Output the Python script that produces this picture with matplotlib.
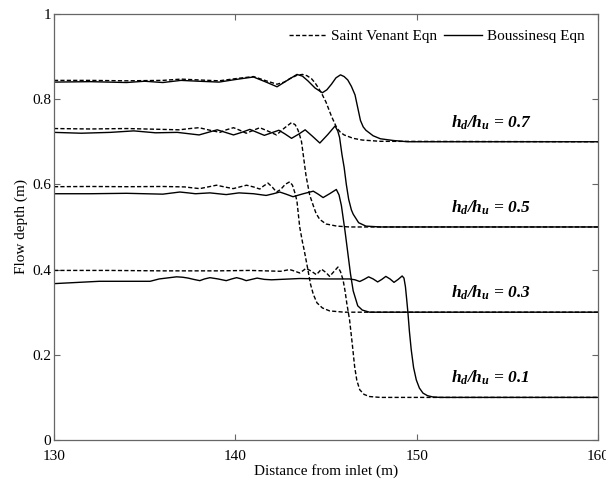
import matplotlib
matplotlib.use("Agg")
import matplotlib.pyplot as plt

# Saint Venant (dashed) and Boussinesq (solid) depth profiles
sv07_x = [130, 132, 134, 136, 137, 138, 139.1, 140, 141.0, 141.7, 142.3, 142.7, 143.0, 143.4, 143.7, 143.95, 144.2, 144.4, 144.6, 144.8, 145.0, 145.3, 145.6, 145.8, 146.0, 146.5, 147.0, 148.0, 160]
sv07_y = [0.844, 0.844, 0.843, 0.844, 0.847, 0.845, 0.843, 0.848, 0.853, 0.843, 0.835, 0.840, 0.848, 0.856, 0.858, 0.855, 0.848, 0.838, 0.825, 0.81, 0.793, 0.76, 0.732, 0.722, 0.716, 0.708, 0.704, 0.701, 0.70]
b07_x = [130, 132, 134, 135, 136, 137, 138, 139.1, 140, 141.0, 141.7, 142.3, 142.9, 143.4, 143.7, 144.0, 144.4, 144.8, 145.05, 145.3, 145.55, 145.8, 146.0, 146.2, 146.4, 146.6, 146.75, 146.9, 147.05, 147.2, 147.6, 148.0, 148.7, 149.5, 160]
b07_y = [0.840, 0.841, 0.839, 0.842, 0.839, 0.844, 0.842, 0.840, 0.846, 0.852, 0.840, 0.829, 0.845, 0.858, 0.854, 0.843, 0.826, 0.815, 0.822, 0.835, 0.850, 0.857, 0.853, 0.845, 0.83, 0.81, 0.78, 0.75, 0.735, 0.727, 0.714, 0.707, 0.703, 0.70, 0.70]

sv05_x = [130, 132, 134, 136, 136.9, 137.5, 138.0, 138.6, 139.15, 139.5, 139.9, 140.25, 140.6, 141.0, 141.35, 141.8, 142.27, 142.7, 143.1, 143.3, 143.45, 143.55, 143.65, 143.9, 144.1, 144.3, 144.45, 144.65, 145.0, 145.6, 146.3, 160]
sv05_y = [0.731, 0.730, 0.731, 0.729, 0.728, 0.731, 0.733, 0.727, 0.722, 0.728, 0.733, 0.727, 0.720, 0.727, 0.733, 0.725, 0.716, 0.732, 0.745, 0.740, 0.728, 0.715, 0.70, 0.62, 0.575, 0.55, 0.532, 0.518, 0.507, 0.502, 0.50, 0.50]
b05_x = [130, 131.5, 133.1, 134.4, 135.6, 136.8, 137.4, 138.0, 138.5, 139.0, 139.45, 139.9, 140.35, 140.8, 141.2, 141.6, 142.0, 142.4, 142.75, 143.1, 143.5, 143.85, 144.25, 144.66, 145.1, 145.5, 145.65, 145.75, 145.88, 146.0, 146.12, 146.25, 146.4, 146.5, 146.8, 147.2, 148, 160]
b05_y = [0.722, 0.720, 0.722, 0.7255, 0.721, 0.722, 0.719, 0.716, 0.722, 0.728, 0.722, 0.716, 0.722, 0.729, 0.722, 0.715, 0.721, 0.727, 0.718, 0.708, 0.718, 0.728, 0.713, 0.697, 0.717, 0.737, 0.725, 0.71, 0.67, 0.64, 0.60, 0.565, 0.54, 0.53, 0.51, 0.502, 0.50, 0.50]

sv03_x = [130, 132, 134, 136, 137.2, 137.6, 138.04, 138.5, 138.96, 139.4, 139.88, 140.25, 140.62, 141.0, 141.35, 141.55, 141.8, 142.05, 142.27, 142.5, 142.75, 143.0, 143.15, 143.3, 143.4, 143.55, 143.7, 143.8, 144.0, 144.15, 144.3, 144.5, 144.8, 145.2, 146, 160]
sv03_y = [0.5945, 0.595, 0.5945, 0.595, 0.594, 0.592, 0.590, 0.594, 0.598, 0.594, 0.590, 0.594, 0.598, 0.594, 0.589, 0.596, 0.603, 0.593, 0.582, 0.588, 0.600, 0.606, 0.598, 0.578, 0.56, 0.50, 0.465, 0.445, 0.40, 0.365, 0.342, 0.322, 0.31, 0.303, 0.30, 0.30]
b03_x = [130, 132, 134, 136, 136.94, 137.4, 137.8, 138.2, 138.6, 139.05, 139.5, 139.85, 140.2, 140.6, 141.0, 141.35, 141.7, 142.1, 142.45, 142.8, 143.18, 143.75, 144.3, 144.57, 144.84, 145.2, 145.57, 145.72, 145.85, 145.95, 146.05, 146.2, 146.35, 146.5, 146.75, 147.0, 147.4, 160]
b03_y = [0.578, 0.578, 0.579, 0.577, 0.582, 0.580, 0.578, 0.579, 0.580, 0.578, 0.576, 0.578, 0.580, 0.579, 0.578, 0.576, 0.574, 0.578, 0.582, 0.577, 0.571, 0.578, 0.584, 0.577, 0.569, 0.578, 0.588, 0.575, 0.55, 0.52, 0.49, 0.44, 0.39, 0.35, 0.315, 0.305, 0.30, 0.30]

sv01_x = [130, 133, 136, 139, 140.8, 142.5, 143.0, 143.3, 143.55, 143.75, 143.9, 144.2, 144.47, 144.6, 144.75, 145.0, 145.2, 145.45, 145.66, 145.8, 145.94, 146.05, 146.15, 146.3, 146.45, 146.58, 146.7, 146.86, 147.1, 147.4, 148, 160]
sv01_y = [0.398, 0.398, 0.397, 0.397, 0.398, 0.396, 0.400, 0.396, 0.392, 0.398, 0.403, 0.396, 0.388, 0.394, 0.401, 0.393, 0.384, 0.396, 0.406, 0.395, 0.376, 0.35, 0.32, 0.282, 0.225, 0.172, 0.14, 0.118, 0.107, 0.102, 0.10, 0.10]
b01_x = [130, 132.5, 135.3, 135.8, 136.76, 137.1, 137.4, 137.7, 138.04, 138.3, 138.6, 139.05, 139.5, 139.8, 140.07, 140.35, 140.6, 140.9, 141.2, 141.6, 142, 143.55, 145, 146.3, 146.6, 146.86, 147.1, 147.35, 147.6, 147.85, 148.08, 148.3, 148.53, 148.75, 148.98, 149.2, 149.3, 149.38, 149.45, 149.52, 149.6, 149.7, 149.83, 149.98, 150.15, 150.35, 150.6, 150.9, 151.3, 160]
b01_y = [0.367, 0.3725, 0.3725, 0.378, 0.383, 0.382, 0.380, 0.377, 0.374, 0.378, 0.381, 0.378, 0.374, 0.378, 0.381, 0.378, 0.374, 0.377, 0.380, 0.377, 0.376, 0.379, 0.378, 0.378, 0.376, 0.372, 0.377, 0.383, 0.378, 0.371, 0.377, 0.384, 0.378, 0.370, 0.377, 0.385, 0.380, 0.36, 0.33, 0.298, 0.255, 0.212, 0.17, 0.141, 0.122, 0.11, 0.104, 0.101, 0.10, 0.10]

ratios = ["0.7", "0.5", "0.3", "0.1"]
label_y = [0.745, 0.545, 0.345, 0.145]

plt.rcParams["font.family"] = ["Liberation Serif", "DejaVu Serif"]
plt.rcParams["mathtext.fontset"] = "custom"
plt.rcParams["mathtext.it"] = "Liberation Serif:italic:bold"
plt.rcParams["mathtext.rm"] = "Liberation Serif:italic:bold"

fig = plt.figure(figsize=(6.06, 4.8), dpi=100)
ax = fig.add_axes([0.0891, 0.0833, 0.8977, 0.8877])

dash = (0, (3, 1.6))
sv = [(sv07_x, sv07_y), (sv05_x, sv05_y), (sv03_x, sv03_y), (sv01_x, sv01_y)]
bq = [(b07_x, b07_y), (b05_x, b05_y), (b03_x, b03_y), (b01_x, b01_y)]
for i in range(4):
    ax.plot(sv[i][0], sv[i][1], color="black", lw=1.0, ls=dash,
            label="Saint Venant Eqn" if i == 0 else None)
    ax.plot(bq[i][0], bq[i][1], color="black", lw=1.0,
            label="Boussinesq Eqn" if i == 0 else None)
    ax.text(151.9, label_y[i], r"$h_d/h_u$" + " = " + ratios[i], fontsize=12.5,
            fontweight="bold", style="italic", va="center")

ax.set_xlim(130, 160)
ax.set_ylim(0, 1)
ax.set_xticks([130, 140, 150, 160])
ax.set_yticks([0, 0.2, 0.4, 0.6, 0.8, 1])
ax.set_yticklabels(["0", "0.2", "0.4", "0.6", "0.8", "1"])
ax.tick_params(direction="in", top=True, right=True, length=4, width=0.8,
               color="#666666", labelsize=11, pad=2)
ax.tick_params(axis="x", pad=7)
for s in ax.spines.values():
    s.set_color("#666666")
    s.set_linewidth(0.9)

ax.set_xlabel("Distance from inlet (m)", fontsize=11, labelpad=1)
ax.set_ylabel("Flow depth (m)", fontsize=11, labelpad=3)
ax.legend(loc="upper right", bbox_to_anchor=(1.0, 0.995), ncol=2, frameon=False,
          fontsize=11, handlelength=2.5, handletextpad=0.3, columnspacing=0.4)

fig.savefig("out.png", dpi=100)
